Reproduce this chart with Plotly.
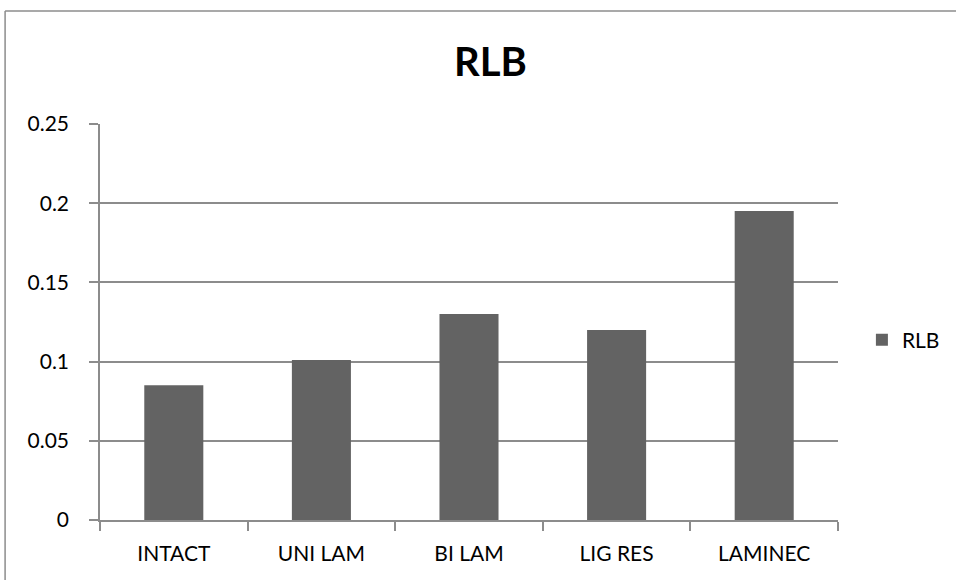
import plotly.graph_objects as go

# Series data
categories = ["INTACT", "UNI LAM", "BI LAM", "LIG RES", "LAMINEC"]
rlb_values = [0.085, 0.101, 0.130, 0.120, 0.195]
y_tick_values = [0, 0.05, 0.1, 0.15, 0.2, 0.25]
y_tick_labels = ["0", "0.05", "0.1", "0.15", "0.2", "0.25"]

FONT = "Lato, Carlito, Calibri, sans-serif"
AXIS_GRAY = "#8c8c8c"

fig = go.Figure()
fig.add_trace(go.Bar(
    x=categories,
    y=rlb_values,
    name="RLB",
    marker=dict(color="#636363", line=dict(width=0)),
))

fig.update_layout(
    width=956,
    height=580,
    margin=dict(l=100, r=117, t=124, b=60),
    paper_bgcolor="white",
    plot_bgcolor="white",
    bargap=0.6,
    font=dict(family=FONT, color="black", size=21),
    title=dict(
        text="<b>RLB</b>",
        font=dict(family=FONT, size=40, color="black"),
        x=0.513, xanchor="center", xref="container",
        y=1 - 62 / 580, yanchor="middle", yref="container",
    ),
    showlegend=True,
    legend=dict(
        x=1.031, xanchor="left",
        y=0.4545, yanchor="middle",
        font=dict(family=FONT, size=21, color="black"),
        bgcolor="rgba(0,0,0,0)",
    ),
    xaxis=dict(
        showline=True, linecolor=AXIS_GRAY, linewidth=1.5,
        ticks="outside", ticklen=9, tickcolor=AXIS_GRAY, tickwidth=1.5,
        tickson="boundaries",
        showgrid=False,
        tickfont=dict(family=FONT, size=21, color="black"),
        ticklabelstandoff=14,
    ),
    yaxis=dict(
        range=[0, 0.25],
        tickvals=y_tick_values,
        ticktext=y_tick_labels,
        showline=True, linecolor=AXIS_GRAY, linewidth=1.5,
        ticks="outside", ticklen=9, tickcolor=AXIS_GRAY, tickwidth=1.5,
        showgrid=True, gridcolor=AXIS_GRAY, gridwidth=1.5,
        zeroline=False,
        tickfont=dict(family=FONT, size=21, color="black"),
        ticklabelstandoff=16,
    ),
    shapes=[
        # chart area frame (left and top edges)
        dict(type="line", xref="paper", yref="paper",
             x0=-0.1286, x1=-0.1286, y0=-0.5, y1=1.2854,
             line=dict(color=AXIS_GRAY, width=1.5)),
        dict(type="line", xref="paper", yref="paper",
             x0=-0.1286, x1=1.5, y0=1.2854, y1=1.2854,
             line=dict(color=AXIS_GRAY, width=1.5)),
    ],
)

fig.write_html("out.html")
